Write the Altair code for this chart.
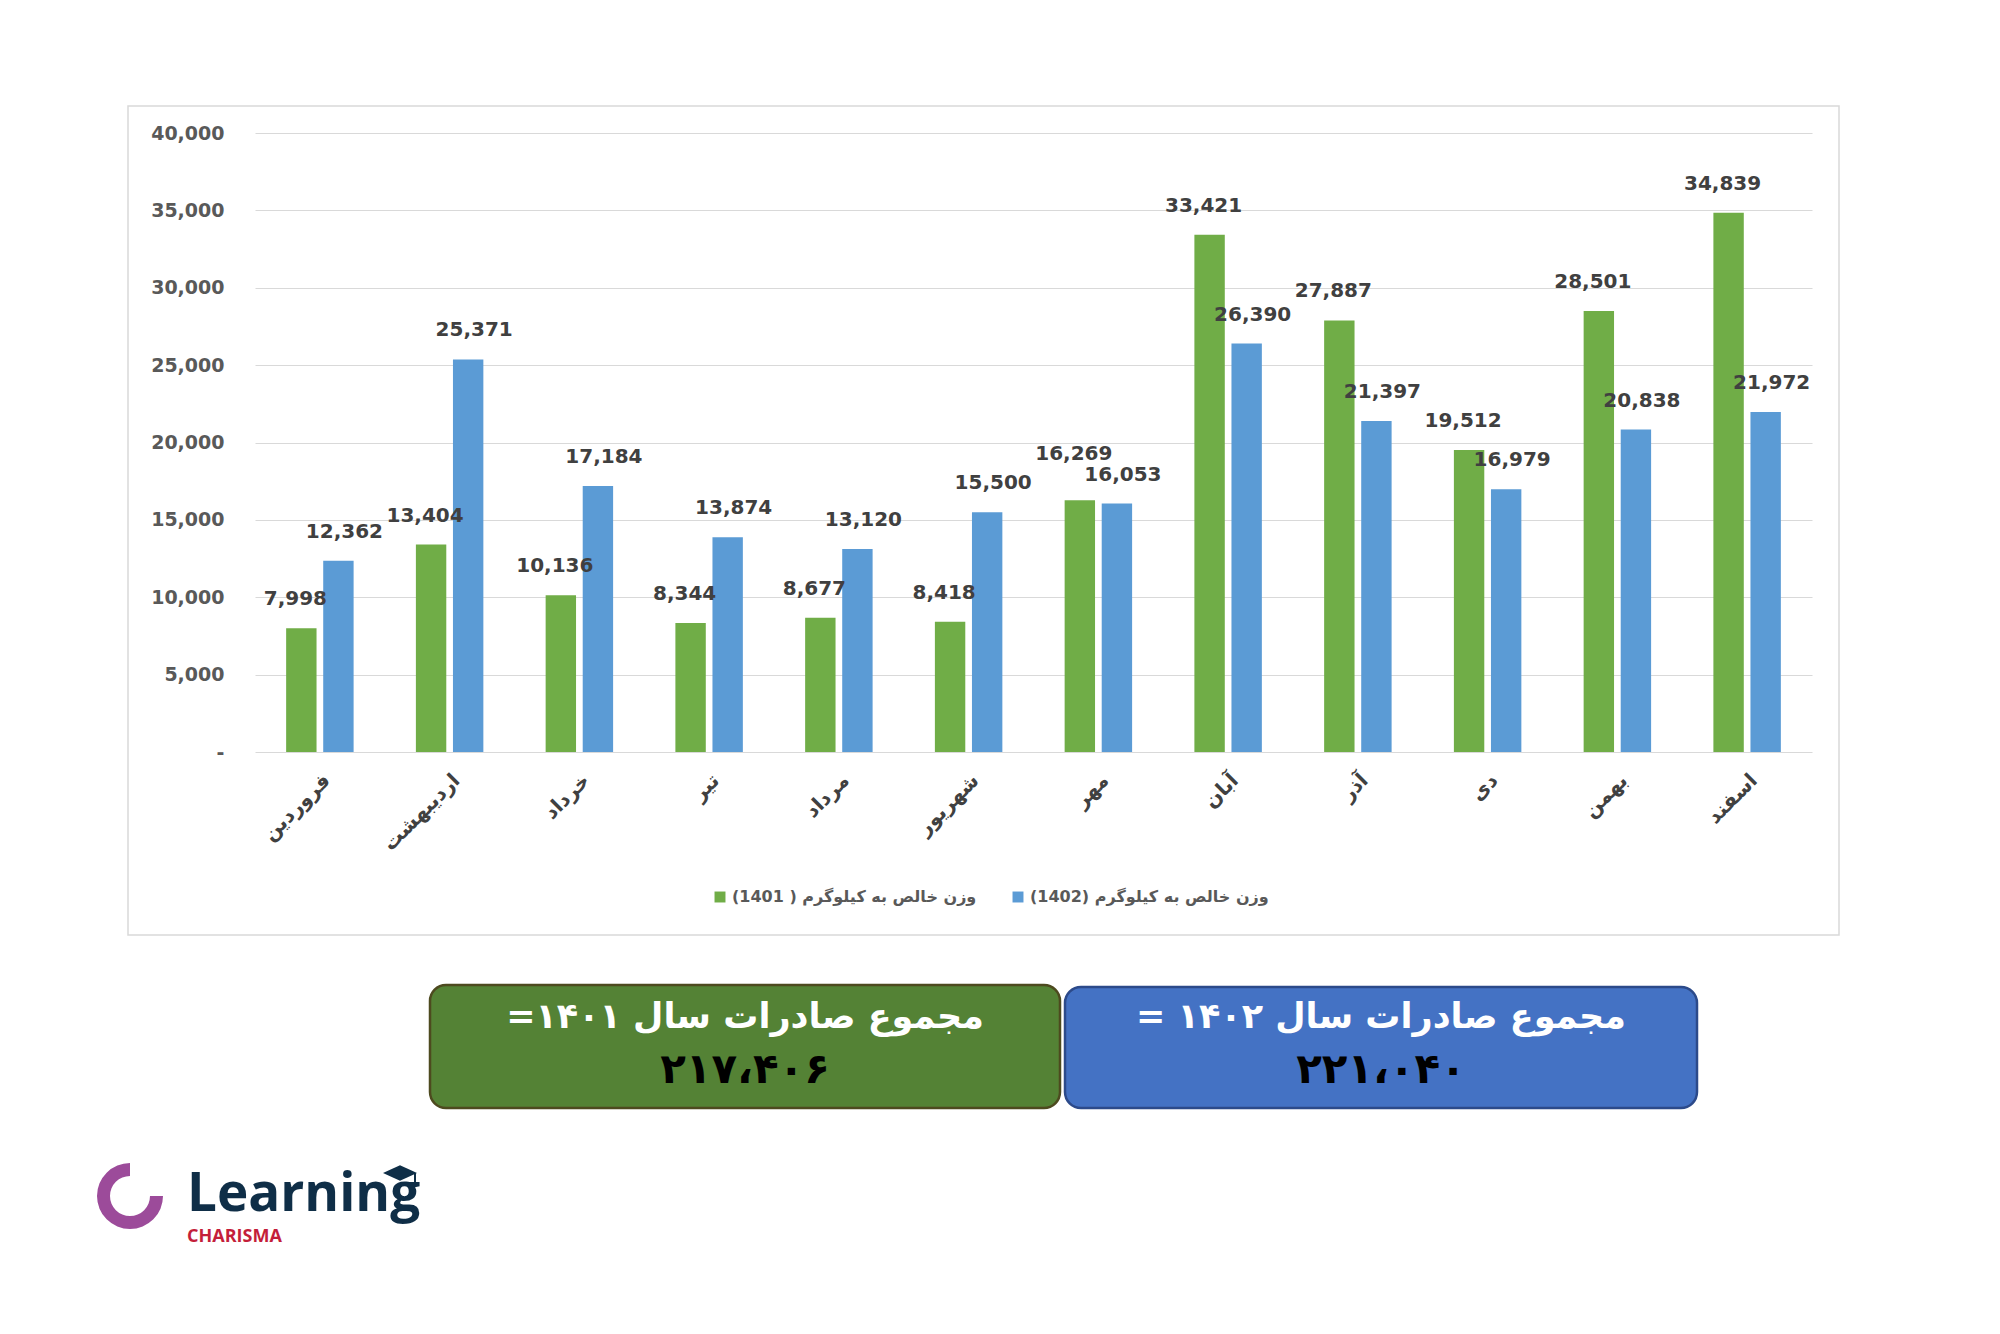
import math
import altair as alt
import pandas as pd

# ---------------- data ----------------
months = ["فروردین", "اردیبهشت", "خرداد", "تیر", "مرداد", "شهریور",
          "مهر", "آبان", "آذر", "دی", "بهمن", "اسفند"]
v1401 = [7998, 13404, 10136, 8344, 8677, 8418, 16269, 33421, 27887, 19512, 28501, 34839]
v1402 = [12362, 25371, 17184, 13874, 13120, 15500, 16053, 26390, 21397, 16979, 20838, 21972]
s1401 = "وزن خالص به کیلوگرم ( 1401)"
s1402 = "وزن خالص به کیلوگرم (1402)"
y_ticks = [0, 5000, 10000, 15000, 20000, 25000, 30000, 35000, 40000]
box_titles = ["مجموع صادرات سال ۱۴۰۱=", "مجموع صادرات سال ۱۴۰۲ ="]
logo_main = "Learning"
logo_sub = "CHARISMA"

FA_DIGITS = str.maketrans("0123456789", "۰۱۲۳۴۵۶۷۸۹")
RLM = "\u200f"


def fa_number(n):
    return f"{n:,}".replace(",", "،").translate(FA_DIGITS)


rows = []
for m, a, b in zip(months, v1401, v1402):
    lift = 1100 if abs(a - b) < 1500 else 0   # raise one label of a near-equal pair
    rows.append(dict(month=m, series=s1401, value=a, label_y=a + lift))
    rows.append(dict(month=m, series=s1402, value=b, label_y=b))
df = pd.DataFrame(rows)
df_g = df[df.series == s1401]
df_b = df[df.series == s1402]

FONT = "DejaVu Sans"
W, H = 1557, 619

x_enc = alt.X("month:N", sort=months, title=None,
              scale=alt.Scale(paddingInner=0.48, paddingOuter=0.24),
              axis=alt.Axis(labelAngle=315, labelFontSize=20, labelFontWeight="bold",
                            labelColor="#404040", labelFont=FONT, labelPadding=18,
                            ticks=False, domain=False, grid=False))
xo_enc = alt.XOffset("series:N", sort=[s1401, s1402], scale=alt.Scale(paddingInner=0.18))
y_scale = alt.Scale(domain=[0, 40000], nice=False)
y_axis = alt.Axis(values=y_ticks, labelExpr="datum.value == 0 ? '-' : format(datum.value, ',')",
                  labelFontSize=19, labelFontWeight="bold", labelColor="#595959", labelFont=FONT,
                  labelPadding=31, ticks=False, domain=False, grid=True,
                  gridColor="#d9d9d9", gridWidth=1.2)

bars = alt.Chart(df).mark_bar().encode(
    x=x_enc, xOffset=xo_enc,
    y=alt.Y("value:Q", scale=y_scale, axis=y_axis, title=None),
    color=alt.Color("series:N", scale=alt.Scale(domain=[s1401, s1402], range=["#70AD47", "#5B9BD5"]),
                    legend=alt.Legend(orient="none", legendX=457, legendY=756, direction="horizontal",
                                      title=None, symbolType="square", symbolSize=120,
                                      symbolStrokeWidth=0, labelFontSize=16, labelFont=FONT,
                                      labelFontWeight="bold", labelColor="#595959", labelLimit=500,
                                      columnPadding=33, labelExpr="datum.label + '" + RLM + "'")),
)


def labels(data, dx):
    return alt.Chart(data).mark_text(dx=dx, dy=-29, baseline="middle", align="center",
                                     fontSize=20, fontWeight="bold", color="#404040", font=FONT).encode(
        x=x_enc, xOffset=xo_enc,
        y=alt.Y("label_y:Q", scale=y_scale, axis=y_axis, title=None),
        text=alt.Text("value:Q", format=","),
    )


lab_g = labels(df_g, -6)
lab_b = labels(df_b, 6)

one = pd.DataFrame({"k": [0]})
border = alt.Chart(one).mark_rect(fillOpacity=0, stroke="#d9d9d9", strokeWidth=1.5).encode(
    x=alt.value(-127), x2=alt.value(1584), y=alt.value(-27), y2=alt.value(802))

# total boxes
box_g_df = pd.DataFrame({"title": [box_titles[0]], "num": [fa_number(sum(v1401))]})
box_b_df = pd.DataFrame({"title": [box_titles[1]], "num": [fa_number(sum(v1402))]})


def box(data, x1, x2, y1, y2, fill, stroke):
    cx = (x1 + x2) / 2
    r = alt.Chart(data).mark_rect(fill=fill, stroke=stroke, strokeWidth=2.5, cornerRadius=16).encode(
        x=alt.value(x1), x2=alt.value(x2), y=alt.value(y1), y2=alt.value(y2))
    t = alt.Chart(data).transform_calculate(t2="datum.title + '" + RLM + "'").mark_text(
        fontSize=35, fontWeight="bold", color="white",
        align="center", baseline="middle", font=FONT).encode(
        x=alt.value(cx), y=alt.value(884), text="t2:N")
    n = alt.Chart(data).mark_text(fontSize=42, fontWeight="bold", color="black",
                                  align="center", baseline="middle", font=FONT).encode(
        x=alt.value(cx), y=alt.value(937), text="num:N")
    return [r, t, n]


boxes = box(box_g_df, 175, 805, 852, 975, "#548235", "#4d4a1f") + \
    box(box_b_df, 810, 1442, 854, 975, "#4472C4", "#2c4a8a")

# logo
logo_df = pd.DataFrame({"main": [logo_main], "sub": [logo_sub]})
arc = alt.Chart(logo_df).mark_arc(radius=33, radius2=20, theta=math.pi / 2, theta2=2 * math.pi,
                                  color="#9c4b9a").encode(x=alt.value(-125), y=alt.value(1063))
main_t = alt.Chart(logo_df).mark_text(font="Open Sans", fontSize=53, fontWeight="bold",
                                      color="#0f2e47", align="left", baseline="alphabetic").encode(
    x=alt.value(-68), y=alt.value(1078), text="main:N")
sub_t = alt.Chart(logo_df).mark_text(font="Open Sans", fontSize=18, fontWeight="bold",
                                     color="#c41e3a", align="left", baseline="alphabetic").encode(
    x=alt.value(-68), y=alt.value(1109), text="sub:N")
cap = alt.Chart(logo_df).mark_point(shape="M -1 0 L 0 -0.45 L 1 0 L 0 0.45 Z", filled=True,
                                    size=1156, color="#0f2e47", opacity=1).encode(
    x=alt.value(145), y=alt.value(1040))
tassel = alt.Chart(logo_df).mark_rule(color="#0f2e47", strokeWidth=2).encode(
    x=alt.value(160), y=alt.value(1040), y2=alt.value(1052))

chart = alt.layer(border, bars, lab_g, lab_b, *boxes, arc, main_t, sub_t, cap, tassel).properties(
    width=W, height=H, background="white",
    padding={"left": 247, "top": 125, "right": 180, "bottom": 540},
    autosize=alt.AutoSizeParams(type="none"),
).configure_view(strokeWidth=0, stroke="transparent")

chart.save("out.html", embed_options={"renderer": "svg", "actions": False})
